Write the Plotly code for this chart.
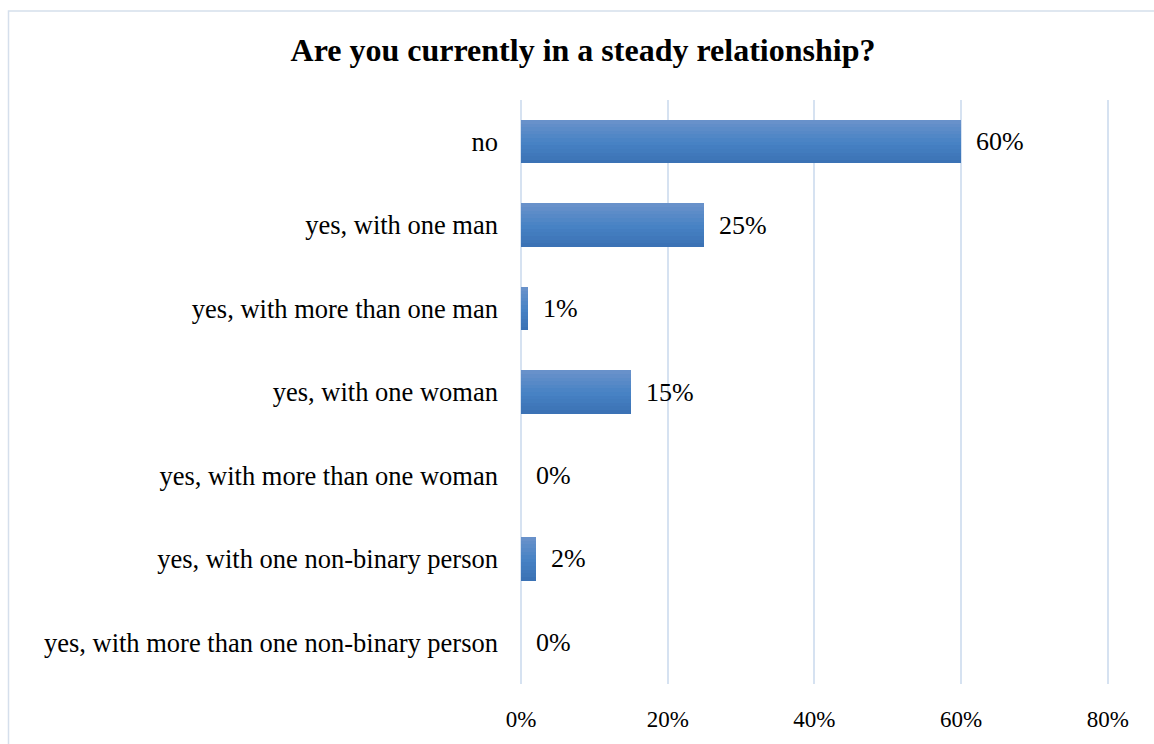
import plotly.graph_objects as go

# Survey answers and shares (%)
categories = [
    "no",
    "yes, with one man",
    "yes, with more than one man",
    "yes, with one woman",
    "yes, with more than one woman",
    "yes, with one non-binary person",
    "yes, with more than one non-binary person",
]
shares = [60, 25, 1, 15, 0, 2, 0]
x_ticks = [0, 20, 40, 60, 80]
x_tick_labels = ["0%", "20%", "40%", "60%", "80%"]

TITLE = "Are you currently in a steady relationship?"
SERIF = "Liberation Serif, Times New Roman, serif"


def mix(c1, c2, t):
    return "rgb(%d,%d,%d)" % tuple(round(a + (b - a) * t) for a, b in zip(c1, c2))


# Vertical gradient across each bar: light top -> brighter middle -> darker bottom
TOP = (107, 146, 202)
MID = (72, 131, 197)
BOT = (58, 113, 180)
BAR_W = 0.52
N_BANDS = 12

fig = go.Figure()
band_w = BAR_W / N_BANDS
for i in range(N_BANDS):
    t = (i + 0.5) / N_BANDS
    col = mix(TOP, MID, t * 2) if t < 0.5 else mix(MID, BOT, (t - 0.5) * 2)
    fig.add_trace(go.Bar(
        x=shares,
        y=categories,
        orientation="h",
        width=band_w * 1.02,
        offset=-BAR_W / 2 + i * band_w,
        marker=dict(color=col, line=dict(width=0)),
        hoverinfo="skip" if i else "x+y",
        showlegend=False,
    ))

# Value labels beside each bar
for cat, v in zip(categories, shares):
    fig.add_annotation(
        x=v, y=cat, xref="x", yref="y",
        text=f"{v}%", showarrow=False,
        xanchor="left", xshift=13,
        font=dict(family=SERIF, size=26, color="#000000"),
    )

# Outer chart frame
W, H = 1154, 744
L, R, T, B = 521, 45, 100, 56
pw, ph = W - L - R, H - T - B


def px_x(p):
    return (p - L) / pw


def px_y(p):
    return 1 - (p - T) / ph


fig.add_shape(
    type="rect", xref="paper", yref="paper",
    x0=px_x(8.5), x1=px_x(1170), y0=px_y(760), y1=px_y(10.5),
    line=dict(color="#d5dfec", width=1.5), fillcolor="rgba(0,0,0,0)",
    layer="below",
)

GRID = "#d6e2f1"

fig.update_layout(
    width=W, height=H,
    margin=dict(l=L, r=R, t=T, b=B),
    paper_bgcolor="white",
    plot_bgcolor="white",
    barmode="overlay",
    bargap=0,
    title=dict(
        text=f"<b>{TITLE}</b>",
        x=583 / W, xanchor="center",
        y=1 - 50 / H, yanchor="middle",
        font=dict(family=SERIF, size=32, color="#000000"),
    ),
    xaxis=dict(
        range=[0, 80.15],
        tickvals=x_ticks,
        ticktext=x_tick_labels,
        showgrid=True,
        gridcolor=GRID,
        gridwidth=2,
        zeroline=True,
        zerolinecolor=GRID,
        zerolinewidth=2,
        showline=False,
        ticks="",
        ticklabelstandoff=19,
        tickfont=dict(family=SERIF, size=23, color="#000000"),
        fixedrange=True,
    ),
    yaxis=dict(
        autorange="reversed",
        showgrid=False,
        zeroline=False,
        showline=False,
        ticks="",
        ticklabelstandoff=22,
        tickfont=dict(family=SERIF, size=26.5, color="#000000"),
        fixedrange=True,
    ),
    font=dict(family=SERIF),
)

fig.write_html("out.html")
